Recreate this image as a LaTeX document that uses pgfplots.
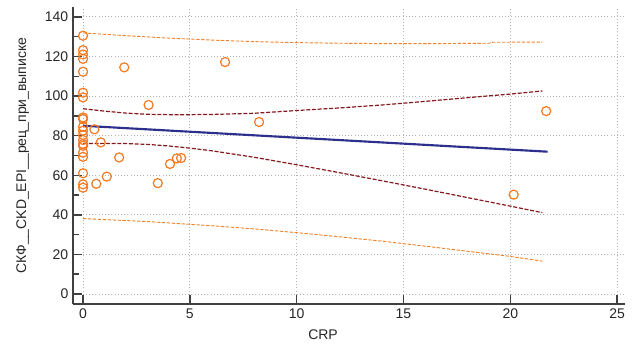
\documentclass[border=0pt]{standalone}
\usepackage{fontspec}
\setmainfont{Liberation Sans}
\usepackage{pgfplots}
\pgfplotsset{compat=1.18}

\definecolor{ptorange}{RGB}{244,121,32}
\definecolor{bandorange}{RGB}{245,130,40}
\definecolor{confred}{RGB}{135,25,30}
\definecolor{regblue}{RGB}{44,48,140}
\definecolor{axgray}{RGB}{64,64,64}
\definecolor{gridgray}{RGB}{180,180,180}

\begin{document}
\begin{tikzpicture}
\begin{axis}[
  name=ax,
  scale only axis,
  width=414pt, height=222.75pt,
  xmin=-0.47, xmax=25.37,
  ymin=-5.05, ymax=145,
  axis x line*=bottom, axis y line*=left,
  axis line style={axgray, line width=1.4pt},
  xtick={0,5,10,15,20,25},
  ytick={0,20,40,60,80,100,120,140},
  minor y tick num=1,
  tick align=inside,
  xtick pos=lower, ytick pos=left,
  major tick length=7pt, minor tick length=4.5pt,
  every tick/.style={axgray, line width=1.1pt},
  grid=major,
  major grid style={gridgray, dotted, line width=0.6pt},
  /pgf/number format/assume math mode=true,
  tick label style={font=\fontsize{10.5}{12}\selectfont, text=black!85},
  label style={font=\fontsize{10.5}{12}\selectfont, text=black!85},
  xlabel={CRP},
  xlabel style={at={(rel axis cs:0.453,-0.104)}, anchor=center},
  ylabel={СКФ\_\_CKD\_EPI\_\_рец\_при\_выписке},
  ylabel style={at={(rel axis cs:-0.071,0.5)}, anchor=south},
  clip=false,
]
% 95% prediction band
\addplot[bandorange, line width=0.7pt, dash pattern=on 2.5pt off 1.2pt] coordinates {
 (0,131.9) (1,131.2) (2,130.5) (3,129.9) (4,129.3) (5,128.8) (6,128.3) (8,127.5)
 (10,127.0) (12,126.7) (14,126.5) (16,126.5) (18,126.6) (19,126.7) (19.2,127.2) (20,127.2) (21.5,127.3)};
\addplot[bandorange, line width=0.7pt, dash pattern=on 2.5pt off 1.2pt] coordinates {
 (0,38.1) (1,37.6) (2,37.1) (3,36.6) (4,35.9) (5,35.2) (6,34.5) (8,32.9)
 (10,31.0) (12,28.9) (14,26.7) (16,24.2) (18,21.6) (20,19.0) (21.5,16.6)};
% 95% confidence band of the fitted line
\addplot[confred, line width=0.9pt, dash pattern=on 3pt off 1.3pt] coordinates {
 (0,93.6) (1,92.4) (2,91.4) (3,90.8) (4,90.6) (5,90.6) (6,90.7) (8,91.3)
 (10,92.7) (12,94.0) (14,95.5) (16,97.3) (18,99.2) (20,101.0) (21.5,102.6)};
\addplot[confred, line width=0.9pt, dash pattern=on 3pt off 1.3pt] coordinates {
 (0,76.0) (1,76.1) (2,76.0) (3,75.6) (4,74.8) (5,73.7) (6,72.4) (8,69.1)
 (10,65.3) (12,61.3) (14,57.2) (16,53.0) (18,48.7) (20,44.4) (21.5,41.1)};
% fitted regression line
\addplot[regblue, line width=1.6pt] coordinates {(0,85.0) (21.75,71.9)};
% observations
\addplot[only marks, mark=o, mark size=3.4pt, ptorange, mark options={line width=0.9pt}] coordinates {
 (0,130.5) (0,123.2) (0,121.0) (0,118.8) (0,112.3) (0,101.7) (0,99.3) (0,89.2)
 (0,88.4) (0,84.5) (0,82.5) (0,80.3) (0,77.8) (0,75.8) (0,74.9) (0,71.4)
 (0,69.3) (0,61.0) (0,55.4) (0,53.7)
 (0.53,83.2) (0.83,76.6) (0.62,55.7) (1.11,59.3) (1.69,69.0) (1.93,114.5)
 (3.07,95.5) (3.5,56.0) (4.07,65.7) (4.39,68.5) (4.59,68.7) (6.65,117.2)
 (8.24,86.9) (20.16,50.2) (21.68,92.4)};
\end{axis}
\pgfresetboundingbox
\path[use as bounding box] ([xshift=-54.75pt,yshift=-34.5pt]ax.south west)
  rectangle ([xshift=420pt,yshift=228pt]ax.south west);
\end{tikzpicture}
\end{document}
